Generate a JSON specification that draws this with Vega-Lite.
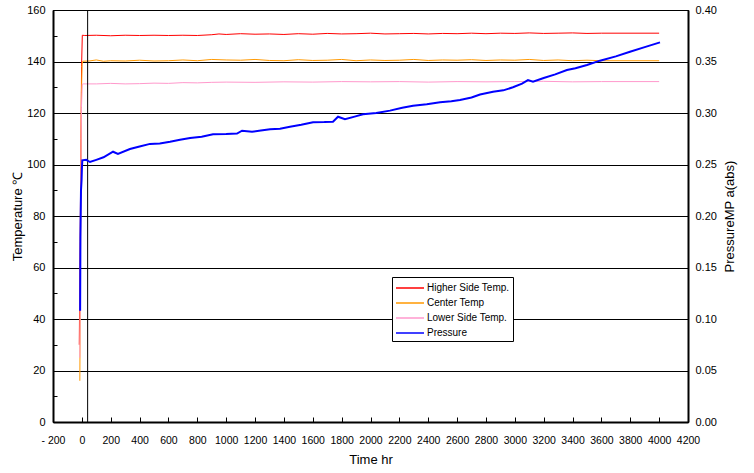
{
  "$schema": "https://vega.github.io/schema/vega-lite/v6.json",
  "width": 635,
  "height": 412,
  "autosize": {"type": "none"},
  "padding": {"left": 53, "top": 10, "right": 66, "bottom": 51},
  "background": "white",
  "config": {
    "font": "Liberation Sans",
    "view": {"stroke": "black", "strokeWidth": 1},
    "axis": {"labelFont": "Liberation Sans", "titleFont": "Liberation Sans", "labelFontSize": 11, "titleFontSize": 13, "titleFontWeight": "normal", "labelColor": "black", "titleColor": "black", "domainColor": "black", "tickColor": "black", "domainWidth": 2, "tickWidth": 1, "labelOverlap": false, "labelFlush": false},
    "legend": {"labelFont": "Liberation Sans"}
  },
  "datasets": {
    "temps": [
      {"t": -18, "v": 30, "s": "Higher Side Temp."},
      {"t": -12, "v": 70, "s": "Higher Side Temp."},
      {"t": -6, "v": 110, "s": "Higher Side Temp."},
      {"t": -2, "v": 138, "s": "Higher Side Temp."},
      {"t": 3, "v": 150.2, "s": "Higher Side Temp."},
      {"t": 20, "v": 150.1, "s": "Higher Side Temp."},
      {"t": 100, "v": 150.2, "s": "Higher Side Temp."},
      {"t": 200, "v": 150.0, "s": "Higher Side Temp."},
      {"t": 300, "v": 150.2, "s": "Higher Side Temp."},
      {"t": 400, "v": 150.1, "s": "Higher Side Temp."},
      {"t": 500, "v": 150.2, "s": "Higher Side Temp."},
      {"t": 600, "v": 150.1, "s": "Higher Side Temp."},
      {"t": 700, "v": 150.2, "s": "Higher Side Temp."},
      {"t": 800, "v": 150.1, "s": "Higher Side Temp."},
      {"t": 900, "v": 150.4, "s": "Higher Side Temp."},
      {"t": 950, "v": 150.7, "s": "Higher Side Temp."},
      {"t": 1000, "v": 150.5, "s": "Higher Side Temp."},
      {"t": 1100, "v": 150.8, "s": "Higher Side Temp."},
      {"t": 1200, "v": 150.6, "s": "Higher Side Temp."},
      {"t": 1300, "v": 150.7, "s": "Higher Side Temp."},
      {"t": 1400, "v": 150.5, "s": "Higher Side Temp."},
      {"t": 1500, "v": 150.8, "s": "Higher Side Temp."},
      {"t": 1600, "v": 150.6, "s": "Higher Side Temp."},
      {"t": 1700, "v": 150.9, "s": "Higher Side Temp."},
      {"t": 1800, "v": 150.7, "s": "Higher Side Temp."},
      {"t": 1900, "v": 150.8, "s": "Higher Side Temp."},
      {"t": 2000, "v": 151.0, "s": "Higher Side Temp."},
      {"t": 2100, "v": 150.7, "s": "Higher Side Temp."},
      {"t": 2200, "v": 150.8, "s": "Higher Side Temp."},
      {"t": 2300, "v": 150.9, "s": "Higher Side Temp."},
      {"t": 2400, "v": 150.7, "s": "Higher Side Temp."},
      {"t": 2500, "v": 150.9, "s": "Higher Side Temp."},
      {"t": 2600, "v": 150.8, "s": "Higher Side Temp."},
      {"t": 2700, "v": 151.0, "s": "Higher Side Temp."},
      {"t": 2800, "v": 150.8, "s": "Higher Side Temp."},
      {"t": 2900, "v": 151.0, "s": "Higher Side Temp."},
      {"t": 3000, "v": 150.9, "s": "Higher Side Temp."},
      {"t": 3100, "v": 151.1, "s": "Higher Side Temp."},
      {"t": 3200, "v": 150.9, "s": "Higher Side Temp."},
      {"t": 3300, "v": 151.0, "s": "Higher Side Temp."},
      {"t": 3400, "v": 151.1, "s": "Higher Side Temp."},
      {"t": 3500, "v": 150.9, "s": "Higher Side Temp."},
      {"t": 3600, "v": 151.0, "s": "Higher Side Temp."},
      {"t": 4000, "v": 151.0, "s": "Higher Side Temp."},
      {"t": -14, "v": 16, "s": "Center Temp"},
      {"t": -10, "v": 60, "s": "Center Temp"},
      {"t": -6, "v": 100, "s": "Center Temp"},
      {"t": -3, "v": 128, "s": "Center Temp"},
      {"t": 2, "v": 139, "s": "Center Temp"},
      {"t": 6, "v": 140.1, "s": "Center Temp"},
      {"t": 50, "v": 140.2, "s": "Center Temp"},
      {"t": 100, "v": 140.6, "s": "Center Temp"},
      {"t": 150, "v": 140.1, "s": "Center Temp"},
      {"t": 200, "v": 140.3, "s": "Center Temp"},
      {"t": 300, "v": 140.2, "s": "Center Temp"},
      {"t": 400, "v": 140.5, "s": "Center Temp"},
      {"t": 500, "v": 140.2, "s": "Center Temp"},
      {"t": 600, "v": 140.3, "s": "Center Temp"},
      {"t": 700, "v": 140.6, "s": "Center Temp"},
      {"t": 800, "v": 140.3, "s": "Center Temp"},
      {"t": 900, "v": 140.8, "s": "Center Temp"},
      {"t": 1000, "v": 140.6, "s": "Center Temp"},
      {"t": 1100, "v": 140.5, "s": "Center Temp"},
      {"t": 1200, "v": 140.8, "s": "Center Temp"},
      {"t": 1300, "v": 140.4, "s": "Center Temp"},
      {"t": 1400, "v": 140.3, "s": "Center Temp"},
      {"t": 1500, "v": 140.7, "s": "Center Temp"},
      {"t": 1600, "v": 140.4, "s": "Center Temp"},
      {"t": 1700, "v": 140.5, "s": "Center Temp"},
      {"t": 1800, "v": 140.8, "s": "Center Temp"},
      {"t": 1900, "v": 140.3, "s": "Center Temp"},
      {"t": 2000, "v": 140.6, "s": "Center Temp"},
      {"t": 2100, "v": 140.4, "s": "Center Temp"},
      {"t": 2200, "v": 140.5, "s": "Center Temp"},
      {"t": 2300, "v": 140.8, "s": "Center Temp"},
      {"t": 2400, "v": 140.4, "s": "Center Temp"},
      {"t": 2500, "v": 140.6, "s": "Center Temp"},
      {"t": 2600, "v": 140.5, "s": "Center Temp"},
      {"t": 2700, "v": 140.7, "s": "Center Temp"},
      {"t": 2800, "v": 140.4, "s": "Center Temp"},
      {"t": 2900, "v": 140.6, "s": "Center Temp"},
      {"t": 3000, "v": 140.5, "s": "Center Temp"},
      {"t": 3100, "v": 140.8, "s": "Center Temp"},
      {"t": 3200, "v": 140.4, "s": "Center Temp"},
      {"t": 3300, "v": 140.6, "s": "Center Temp"},
      {"t": 3400, "v": 140.3, "s": "Center Temp"},
      {"t": 3500, "v": 140.5, "s": "Center Temp"},
      {"t": 3600, "v": 140.3, "s": "Center Temp"},
      {"t": 4000, "v": 140.3, "s": "Center Temp"},
      {"t": -14, "v": 25, "s": "Lower Side Temp."},
      {"t": -10, "v": 60, "s": "Lower Side Temp."},
      {"t": -6, "v": 100, "s": "Lower Side Temp."},
      {"t": -3, "v": 122, "s": "Lower Side Temp."},
      {"t": 3, "v": 131.2, "s": "Lower Side Temp."},
      {"t": 10, "v": 131.3, "s": "Lower Side Temp."},
      {"t": 100, "v": 131.3, "s": "Lower Side Temp."},
      {"t": 200, "v": 131.5, "s": "Lower Side Temp."},
      {"t": 300, "v": 131.3, "s": "Lower Side Temp."},
      {"t": 400, "v": 131.4, "s": "Lower Side Temp."},
      {"t": 500, "v": 131.6, "s": "Lower Side Temp."},
      {"t": 600, "v": 131.5, "s": "Lower Side Temp."},
      {"t": 700, "v": 131.8, "s": "Lower Side Temp."},
      {"t": 800, "v": 131.7, "s": "Lower Side Temp."},
      {"t": 900, "v": 131.9, "s": "Lower Side Temp."},
      {"t": 1000, "v": 132.0, "s": "Lower Side Temp."},
      {"t": 1200, "v": 131.9, "s": "Lower Side Temp."},
      {"t": 1400, "v": 132.1, "s": "Lower Side Temp."},
      {"t": 1600, "v": 132.0, "s": "Lower Side Temp."},
      {"t": 1800, "v": 132.2, "s": "Lower Side Temp."},
      {"t": 2000, "v": 132.1, "s": "Lower Side Temp."},
      {"t": 2200, "v": 132.2, "s": "Lower Side Temp."},
      {"t": 2400, "v": 132.0, "s": "Lower Side Temp."},
      {"t": 2600, "v": 132.2, "s": "Lower Side Temp."},
      {"t": 2800, "v": 132.1, "s": "Lower Side Temp."},
      {"t": 3000, "v": 132.2, "s": "Lower Side Temp."},
      {"t": 3200, "v": 132.3, "s": "Lower Side Temp."},
      {"t": 3400, "v": 132.1, "s": "Lower Side Temp."},
      {"t": 3600, "v": 132.2, "s": "Lower Side Temp."},
      {"t": 4000, "v": 132.2, "s": "Lower Side Temp."}
    ],
    "pres": [
      {"t": -12, "p": 0.108, "s": "Pressure"},
      {"t": -10, "p": 0.18, "s": "Pressure"},
      {"t": -6, "p": 0.225, "s": "Pressure"},
      {"t": -2, "p": 0.235, "s": "Pressure"},
      {"t": 0, "p": 0.245, "s": "Pressure"},
      {"t": 3, "p": 0.254, "s": "Pressure"},
      {"t": 30, "p": 0.2545, "s": "Pressure"},
      {"t": 56, "p": 0.2524, "s": "Pressure"},
      {"t": 100, "p": 0.2545, "s": "Pressure"},
      {"t": 150, "p": 0.257, "s": "Pressure"},
      {"t": 216, "p": 0.2624, "s": "Pressure"},
      {"t": 250, "p": 0.2602, "s": "Pressure"},
      {"t": 333, "p": 0.265, "s": "Pressure"},
      {"t": 400, "p": 0.2675, "s": "Pressure"},
      {"t": 472, "p": 0.270, "s": "Pressure"},
      {"t": 540, "p": 0.2705, "s": "Pressure"},
      {"t": 611, "p": 0.272, "s": "Pressure"},
      {"t": 680, "p": 0.274, "s": "Pressure"},
      {"t": 750, "p": 0.2757, "s": "Pressure"},
      {"t": 830, "p": 0.277, "s": "Pressure"},
      {"t": 909, "p": 0.2793, "s": "Pressure"},
      {"t": 1000, "p": 0.2795, "s": "Pressure"},
      {"t": 1075, "p": 0.280, "s": "Pressure"},
      {"t": 1110, "p": 0.2828, "s": "Pressure"},
      {"t": 1179, "p": 0.2818, "s": "Pressure"},
      {"t": 1240, "p": 0.283, "s": "Pressure"},
      {"t": 1304, "p": 0.2842, "s": "Pressure"},
      {"t": 1373, "p": 0.2848, "s": "Pressure"},
      {"t": 1442, "p": 0.2867, "s": "Pressure"},
      {"t": 1520, "p": 0.2885, "s": "Pressure"},
      {"t": 1602, "p": 0.291, "s": "Pressure"},
      {"t": 1680, "p": 0.2912, "s": "Pressure"},
      {"t": 1740, "p": 0.2916, "s": "Pressure"},
      {"t": 1775, "p": 0.2964, "s": "Pressure"},
      {"t": 1823, "p": 0.2939, "s": "Pressure"},
      {"t": 1890, "p": 0.2965, "s": "Pressure"},
      {"t": 1948, "p": 0.2987, "s": "Pressure"},
      {"t": 2040, "p": 0.300, "s": "Pressure"},
      {"t": 2135, "p": 0.3023, "s": "Pressure"},
      {"t": 2220, "p": 0.305, "s": "Pressure"},
      {"t": 2295, "p": 0.3071, "s": "Pressure"},
      {"t": 2390, "p": 0.3085, "s": "Pressure"},
      {"t": 2482, "p": 0.3104, "s": "Pressure"},
      {"t": 2560, "p": 0.3115, "s": "Pressure"},
      {"t": 2620, "p": 0.3126, "s": "Pressure"},
      {"t": 2700, "p": 0.315, "s": "Pressure"},
      {"t": 2759, "p": 0.318, "s": "Pressure"},
      {"t": 2849, "p": 0.3207, "s": "Pressure"},
      {"t": 2920, "p": 0.322, "s": "Pressure"},
      {"t": 2987, "p": 0.325, "s": "Pressure"},
      {"t": 3050, "p": 0.3285, "s": "Pressure"},
      {"t": 3091, "p": 0.332, "s": "Pressure"},
      {"t": 3126, "p": 0.3304, "s": "Pressure"},
      {"t": 3200, "p": 0.334, "s": "Pressure"},
      {"t": 3280, "p": 0.3375, "s": "Pressure"},
      {"t": 3361, "p": 0.3418, "s": "Pressure"},
      {"t": 3420, "p": 0.3435, "s": "Pressure"},
      {"t": 3500, "p": 0.3466, "s": "Pressure"},
      {"t": 3590, "p": 0.3508, "s": "Pressure"},
      {"t": 3700, "p": 0.355, "s": "Pressure"},
      {"t": 3798, "p": 0.3595, "s": "Pressure"},
      {"t": 3900, "p": 0.364, "s": "Pressure"},
      {"t": 4006, "p": 0.3686, "s": "Pressure"}
    ],
    "marker": [{"t": 40}]
  },
  "encoding": {
    "x": {"field": "t", "type": "quantitative", "scale": {"domain": [-200, 4200], "nice": false, "zero": false},
      "axis": {"title": "Time hr", "values": [-200,0,200,400,600,800,1000,1200,1400,1600,1800,2000,2200,2400,2600,2800,3000,3200,3400,3600,3800,4000,4200],
        "labelExpr": "datum.value < 0 ? '- 200' : format(datum.value, 'd')", "grid": false, "tickSize": -5, "labelPadding": 18, "titlePadding": 8, "labelFlush": false, "labelOverlap": false, "labelSeparation": -20, "labelFontSize": 10.5}}
  },
  "layer": [
    {
      "data": {"name": "temps"},
      "mark": {"type": "line", "strokeWidth": 1, "clip": true},
      "encoding": {
        "y": {"field": "v", "type": "quantitative", "scale": {"domain": [0, 160], "nice": false},
          "axis": {"title": "Temperature  ℃", "values": [0,10,20,30,40,50,60,70,80,90,100,110,120,130,140,150,160],
            "labelExpr": "datum.value % 20 == 0 ? datum.label : ''", "grid": true, "gridColor": "black", "gridWidth": 1,
            "gridOpacity": {"expr": "datum.value % 20 == 0 ? 1 : 0"}, "tickSize": -4, "labelPadding": 12, "titlePadding": 2, "labelFlush": false, "labelOverlap": false}},
        "color": {"field": "s", "type": "nominal", "sort": null,
          "scale": {"domain": ["Higher Side Temp.", "Center Temp", "Lower Side Temp.", "Pressure"], "range": ["#ff0000", "#ff9900", "#ff99cc", "#0000ff"]},
          "legend": {"title": null, "orient": "none", "legendX": 339, "legendY": 267, "fillColor": "white", "strokeColor": "black", "padding": 3,
            "symbolType": "M-1,0H3", "symbolSize": 196, "symbolStrokeWidth": 1.5, "labelFontSize": 10, "labelOffset": 16, "rowPadding": 2, "labelColor": "black"}},
        "detail": {"field": "s"}
      }
    },
    {
      "data": {"name": "marker"},
      "mark": {"type": "rule", "color": "black", "strokeWidth": 1},
      "encoding": {}
    },
    {
      "data": {"name": "pres"},
      "mark": {"type": "line", "strokeWidth": 2, "clip": true},
      "encoding": {
        "y": {"field": "p", "type": "quantitative", "scale": {"domain": [0, 0.4], "nice": false},
          "axis": {"orient": "right", "title": "PressureMP a(abs)", "titleAngle": 270, "values": [0,0.05,0.1,0.15,0.2,0.25,0.3,0.35,0.4], "format": ".2f", "grid": false, "tickSize": -5, "labelPadding": 12, "titlePadding": 20, "labelFlush": false, "labelOverlap": false}},
        "color": {"field": "s", "type": "nominal"}
      }
    }
  ],
  "resolve": {"scale": {"y": "independent"}}
}
